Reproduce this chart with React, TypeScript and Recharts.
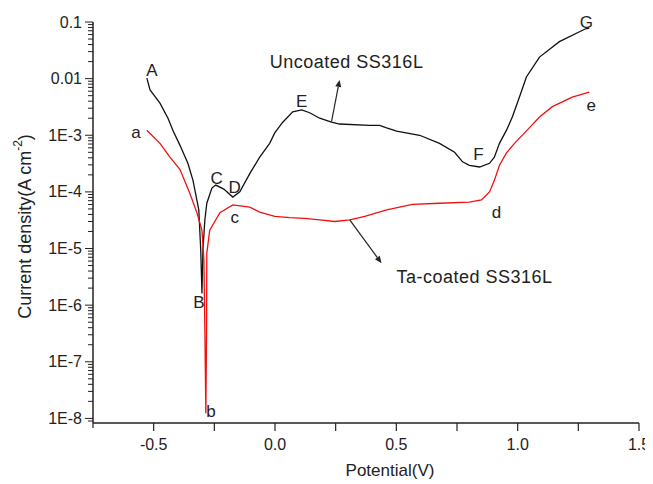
import React from "react";
import {
  LineChart,
  Line,
  XAxis,
  YAxis,
  ReferenceDot,
  ReferenceLine,
} from "recharts";

// Uncoated SS316L (black)
const uncoatedPotential = [
  -0.528, -0.515, -0.474, -0.441, -0.421, -0.392, -0.359, -0.338, -0.314,
  -0.306, -0.301, -0.297, -0.289, -0.281, -0.26, -0.244, -0.211, -0.174,
  -0.145, -0.104, -0.063, -0.022, -0.001, 0.032, 0.073, 0.11, 0.143, 0.184,
  0.233, 0.266, 0.39, 0.431, 0.46, 0.501, 0.596, 0.678, 0.74, 0.773, 0.801,
  0.843, 0.884, 0.904, 0.925, 0.954, 0.978, 1.007, 1.036, 1.09, 1.172, 1.28,
  1.295,
];
const uncoatedCurrent = [
  1.02e-2, 6.3e-3, 3.7e-3, 2.0e-3, 1.23e-3, 6.7e-4, 3.2e-4, 1.6e-4, 4.8e-5,
  9.3e-6, 1.6e-6, 9.3e-6, 3.2e-5, 6.3e-5, 1.17e-4, 1.32e-4, 1.12e-4, 8.1e-5,
  1.0e-4, 2.1e-4, 4.1e-4, 7.2e-4, 1.1e-3, 1.7e-3, 2.6e-3, 2.8e-3, 2.5e-3,
  2.0e-3, 1.7e-3, 1.58e-3, 1.5e-3, 1.5e-3, 1.35e-3, 1.18e-3, 1.0e-3, 7.2e-4,
  5.0e-4, 3.4e-4, 2.95e-4, 2.75e-4, 3.2e-4, 4.1e-4, 7.2e-4, 1.23e-3, 2.1e-3,
  4.7e-3, 1.07e-2, 2.4e-2, 4.5e-2, 7.6e-2, 7.8e-2,
];

// Ta-coated SS316L (red)
const coatedPotential = [
  -0.528, -0.474, -0.433, -0.392, -0.351, -0.322, -0.301, -0.293, -0.289,
  -0.285, -0.282, -0.281, -0.269, -0.227, -0.174, -0.104, -0.063, -0.001,
  0.061, 0.123, 0.184, 0.246, 0.308, 0.37, 0.46, 0.567, 0.678, 0.801, 0.851,
  0.884, 0.904, 0.925, 0.954, 0.987, 1.048, 1.09, 1.143, 1.225, 1.295,
];
const coatedCurrent = [
  1.23e-3, 7.2e-4, 4.1e-4, 2.5e-4, 9.5e-5, 4.3e-5, 2.1e-5, 6.3e-6, 3.6e-7,
  1.23e-8, 3.6e-7, 8.3e-6, 2.1e-5, 4.3e-5, 5.9e-5, 5.4e-5, 4.4e-5, 3.7e-5,
  3.5e-5, 3.4e-5, 3.2e-5, 3.0e-5, 3.2e-5, 3.7e-5, 4.8e-5, 6.0e-5, 6.3e-5,
  6.6e-5, 7.2e-5, 1.0e-4, 1.6e-4, 2.95e-4, 4.9e-4, 7.2e-4, 1.35e-3, 2.1e-3,
  3.2e-3, 4.7e-3, 5.8e-3,
];

const xTicks = [-0.75, -0.5, -0.25, 0, 0.25, 0.5, 0.75, 1, 1.25, 1.5];
const yMajor = [1e-8, 1e-7, 1e-6, 1e-5, 1e-4, 1e-3, 1e-2, 1e-1];
const yTicks = [9e-9].concat(
  yMajor.flatMap((m, i) =>
    i === yMajor.length - 1 ? [m] : [1, 2, 3, 4, 5, 6, 7, 8, 9].map((k) => k * m)
  )
);

// point labels (potential, current density)
const pointLabels = [
  { t: "A", x: -0.507, y: 1.42e-2 },
  { t: "a", x: -0.573, y: 1.1e-3 },
  { t: "B", x: -0.314, y: 1.1e-6 },
  { t: "b", x: -0.264, y: 1.3e-8 },
  { t: "C", x: -0.24, y: 1.7e-4 },
  { t: "D", x: -0.166, y: 1.2e-4 },
  { t: "c", x: -0.166, y: 3.5e-5 },
  { t: "E", x: 0.11, y: 3.9e-3 },
  { t: "F", x: 0.838, y: 4.5e-4 },
  { t: "G", x: 1.283, y: 0.1 },
  { t: "e", x: 1.303, y: 3.3e-3 },
  { t: "d", x: 0.913, y: 4.3e-5 },
];

const notes = [
  {
    t: "Uncoated SS316L",
    x: 0.295,
    y: 1.95e-2,
    from: { x: 0.233, y: 1.75e-3 },
    to: { x: 0.266, y: 9.5e-3 },
  },
  {
    t: "Ta-coated SS316L",
    x: 0.822,
    y: 3.1e-6,
    from: { x: 0.308, y: 3.2e-5 },
    to: { x: 0.439, y: 5.5e-6 },
  },
];

const uncoated = uncoatedPotential.map((v, i) => ({ v, j: uncoatedCurrent[i] }));
const coated = coatedPotential.map((v, i) => ({ v, j: coatedCurrent[i] }));

const FONT = "'Liberation Sans', Arial, sans-serif";
const INK = "#222";

function yLabel(v: number) {
  if (v === 0.1) return "0.1";
  if (v === 0.01) return "0.01";
  return `1E${Math.round(Math.log10(v))}`;
}

function YTick({ x, y, payload }: any) {
  const lg = Math.log10(payload.value);
  const major = Math.abs(lg - Math.round(lg)) < 1e-6;
  return (
    <g>
      <line x1={x} x2={x - (major ? 8 : 5)} y1={y} y2={y} stroke={INK} strokeWidth={1} />
      {major && (
        <text
          x={x - 11}
          y={y}
          textAnchor="end"
          dominantBaseline="central"
          fontSize={16}
          fontFamily={FONT}
          fill={INK}
        >
          {yLabel(payload.value)}
        </text>
      )}
    </g>
  );
}

function XTick({ x, y, payload }: any) {
  const v = payload.value;
  const labeled = Math.abs(v * 2 - Math.round(v * 2)) < 1e-6 && v > -0.7;
  return (
    <g>
      <line x1={x} x2={x} y1={y} y2={y + (v === -0.75 ? 5 : 8)} stroke={INK} strokeWidth={1.2} />
      {labeled && (
        <text
          x={x}
          y={y + 21}
          textAnchor="middle"
          dominantBaseline="central"
          fontSize={16}
          fontFamily={FONT}
          fill={INK}
        >
          {v.toFixed(1)}
        </text>
      )}
    </g>
  );
}

function Arrow(p: any) {
  const { x1, y1, x2, y2 } = p;
  const a = Math.atan2(y2 - y1, x2 - x1);
  const L = 7;
  const W = 3;
  const bx = x2 - L * Math.cos(a);
  const by = y2 - L * Math.sin(a);
  const nx = -Math.sin(a) * W;
  const ny = Math.cos(a) * W;
  return (
    <g>
      <line x1={x1} y1={y1} x2={bx} y2={by} stroke={INK} strokeWidth={1.2} />
      <polygon points={`${x2},${y2} ${bx + nx},${by + ny} ${bx - nx},${by - ny}`} fill={INK} />
    </g>
  );
}

function textShape(t: string, size: number, spacing = 0) {
  return (p: any) => (
    <text
      x={p.cx}
      y={p.cy}
      textAnchor="middle"
      dominantBaseline="central"
      fontSize={size}
      fontFamily={FONT}
      letterSpacing={spacing}
      fill={INK}
    >
      {t}
    </text>
  );
}

export default function App() {
  return (
    <LineChart
      width={645}
      height={476}
      margin={{ top: 14, right: 14, bottom: 0, left: 0 }}
      style={{ background: "#fff", overflow: "visible" }}
    >
      <XAxis
        type="number"
        dataKey="v"
        domain={[-0.75, 1.5]}
        ticks={xTicks}
        interval={0}
        allowDataOverflow
        height={61}
        tickSize={0}
        tickMargin={0}
        tick={<XTick />}
        axisLine={{ stroke: INK, strokeWidth: 1.5 }}
        label={{
          content: ({ viewBox }: any) => (
            <text
              x={382}
              y={viewBox.y + 47}
              textAnchor="middle"
              dominantBaseline="central"
              fontSize={17}
              fontFamily={FONT}
              fill={INK}
            >
              Potential(V)
            </text>
          ),
        }}
      />
      <YAxis
        type="number"
        dataKey="j"
        scale="log"
        domain={[8.3e-9, 0.1]}
        ticks={yTicks}
        interval={0}
        allowDataOverflow
        width={85}
        tickSize={0}
        tickMargin={0}
        tick={<YTick />}
        axisLine={{ stroke: INK, strokeWidth: 1.5 }}
        label={{
          content: ({ viewBox }: any) => {
            const cx = 17;
            const cy = viewBox.y + viewBox.height / 2 + 4;
            return (
              <text
                x={cx}
                y={cy}
                transform={`rotate(-90 ${cx} ${cy})`}
                textAnchor="middle"
                dominantBaseline="central"
                fontSize={18}
                fontFamily={FONT}
                fill={INK}
              >
                Current density(A cm
                <tspan fontSize={12} dy={-7}>
                  -2
                </tspan>
                <tspan dy={7}>)</tspan>
              </text>
            );
          },
        }}
      />
      <Line
        data={uncoated}
        dataKey="j"
        type="linear"
        stroke="#111"
        strokeWidth={1.3}
        dot={false}
        isAnimationActive={false}
      />
      <Line
        data={coated}
        dataKey="j"
        type="linear"
        stroke="#f01010"
        strokeWidth={1.3}
        dot={false}
        isAnimationActive={false}
      />
      {notes.map((n) => (
        <ReferenceLine
          key={`arrow-${n.t}`}
          segment={[n.from, n.to]}
          ifOverflow="visible"
          shape={Arrow}
        />
      ))}
      {notes.map((n) => (
        <ReferenceDot
          key={n.t}
          x={n.x}
          y={n.y}
          r={0}
          ifOverflow="visible"
          shape={textShape(n.t, 18, 0.5)}
        />
      ))}
      {pointLabels.map((l) => (
        <ReferenceDot
          key={l.t}
          x={l.x}
          y={l.y}
          r={0}
          ifOverflow="visible"
          shape={textShape(l.t, 17)}
        />
      ))}
    </LineChart>
  );
}
